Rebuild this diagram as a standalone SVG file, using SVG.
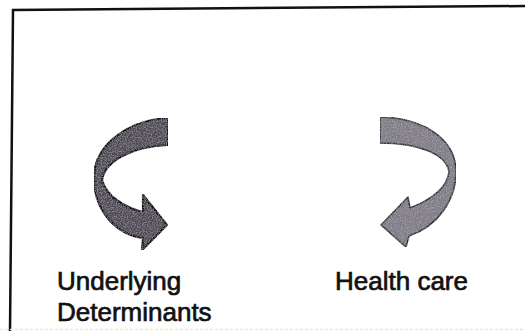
<svg xmlns="http://www.w3.org/2000/svg" width="525" height="331" viewBox="0 0 525 331">
<style>
.frame{fill:none;stroke:#111;stroke-width:2.5}
.lbl{font-family:"Liberation Sans",Arial,sans-serif;font-size:26px;fill:#111;stroke:#111;stroke-width:0.7}
.arrowL{fill:#4f4a55;stroke:#141216;stroke-width:2.2;stroke-linejoin:round}
.arrowR{fill:#7f7b86;stroke:#333036;stroke-width:1.6;stroke-linejoin:round}
</style>
<defs>
<filter id="grain" x="0" y="0" width="100%" height="100%">
<feTurbulence type="fractalNoise" baseFrequency="0.8" numOctaves="2" seed="3" result="n"/>
<feColorMatrix in="n" type="matrix" values="0 0 0 0 0.8  0 0 0 0 0.8  0 0 0 0 0.85  0 0 0 0.7 -0.3" result="speck"/>
<feComposite in="speck" in2="SourceGraphic" operator="atop"/>
</filter>
</defs>
<rect width="525" height="331" fill="#fff"/>
<g id="frame">
<path class="frame" d="M10,331 L13,10 L525,6"/>
<line x1="0" y1="329.5" x2="525" y2="329.5" stroke="#ece8d6" stroke-width="1.5" stroke-dasharray="3 2"/>
</g>
<g id="connectors">
<g id="arrow-left" filter="url(#grain)">
<path class="arrowL" d="M168,118 C128,120 94,145 94,178 C94,210 115,234 143,238 L142,250 L167,225 L143,195 L143,212 C125,208 106,196 102,180 C105,160 135,146 168,145 Z"/>
</g>
<g id="arrow-right" filter="url(#grain)">
<path class="arrowR" d="M380,117 C425,118 456,140 456,172 C456,200 438,226 409,236 L406,247 L381,225 L408,197 L410,208 C430,200 447,189 449,172 C447,155 420,143 380,143 Z"/>
</g>
</g>
<g id="node-underlying">
<text class="lbl" x="57" y="290">Underlying</text>
<text class="lbl" x="57" y="321">Determinants</text>
</g>
<g id="node-healthcare">
<text class="lbl" x="335" y="290">Health care</text>
</g>
</svg>
